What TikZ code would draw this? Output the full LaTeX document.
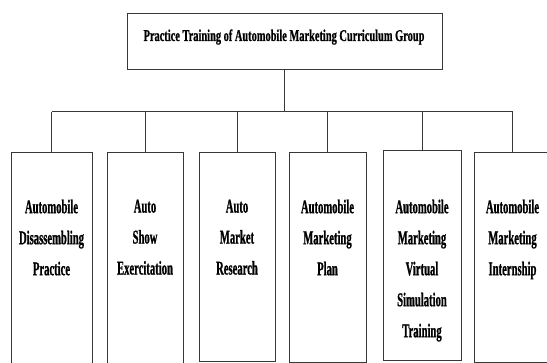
\documentclass[tikz,border=0pt]{standalone}
\usepackage{fontspec}
\setmainfont{Liberation Serif}
\newfontfamily\titlefont{Liberation Serif}[FakeStretch=0.63,BoldFeatures={FakeBold=0.7}]
\newfontfamily\boxfont{Liberation Serif}[FakeStretch=0.545,BoldFeatures={FakeBold=0.8}]
\begin{document}
\begin{tikzpicture}[x=1pt,y=-1pt,
  line/.style={draw=black!78,line width=1pt},
  box/.style={line,rectangle,inner sep=0pt,anchor=north},
  lbl/.style={inner sep=0pt,align=center,anchor=north,
    font=\boxfont\fontsize{19.5}{31}\selectfont\bfseries},
]
\useasboundingbox (0,0) rectangle (547,363);
\clip (0,0) rectangle (547,363);
\fill[white] (0,0) rectangle (547,363);
% top box
\node[box,minimum width=315pt,minimum height=56pt] (top) at (284.5,13) {};
\node[inner sep=0pt,anchor=base,font=\titlefont\fontsize{16.5}{20}\selectfont\bfseries] (title) at (284,41)
  {Practice Training of Automobile Marketing Curriculum Group};
% child boxes
\node[box,minimum width=81pt,minimum height=230pt] (b1) at (51.5,152) {};
\node[box,minimum width=76pt,minimum height=230pt] (b2) at (145,152) {};
\node[box,minimum width=76pt,minimum height=209pt] (b3) at (237,152) {};
\node[box,minimum width=77pt,minimum height=210pt] (b4) at (327.5,152) {};
\node[box,minimum width=78pt,minimum height=210pt] (b5) at (422,150) {};
\node[box,minimum width=77pt,minimum height=210pt] (b6) at (512.5,152) {};
% labels
\node[lbl] (t1) at (b1.north |- 0,199.5) {Automobile\\Disassembling\\Practice};
\node[lbl] (t2) at (b2.north |- 0,199.5) {Auto\\Show\\Exercitation};
\node[lbl] (t3) at (b3.north |- 0,199.5) {Auto\\Market\\Research};
\node[lbl] (t4) at (b4.north |- 0,199.5) {Automobile\\Marketing\\Plan};
\node[lbl] (t5) at (b5.north |- 0,199.5) {Automobile\\Marketing\\Virtual\\Simulation\\Training};
\node[lbl] (t6) at (b6.north |- 0,199.5) {Automobile\\Marketing\\Internship};
% connectors
\coordinate (bar) at (0,112);
\draw[line] (top.south) -- (top.south |- bar);
\draw[line] (b1.north |- bar) -- (b6.north |- bar);
\foreach \i in {1,...,6} \draw[line] (b\i.north |- bar) -- (b\i.north);
\end{tikzpicture}
\end{document}
